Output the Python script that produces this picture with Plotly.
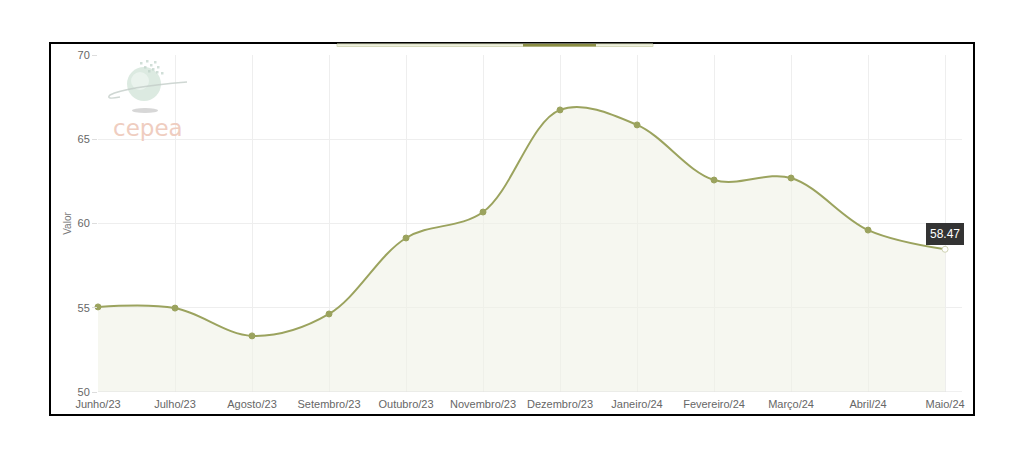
import plotly.graph_objects as go

months = ["Junho/23", "Julho/23", "Agosto/23", "Setembro/23", "Outubro/23", "Novembro/23",
          "Dezembro/23", "Janeiro/24", "Fevereiro/24", "Março/24", "Abril/24", "Maio/24"]
values = [55.05, 54.98, 53.33, 54.63, 59.14, 60.68, 66.74, 65.85, 62.58, 62.70, 59.61, 58.47]
y_ticks = [50, 55, 60, 65, 70]

OFF = 8  # browser body margin
W, H = 1024 - 2 * OFF, 451 - 2 * OFF
# plot area in page pixels: x 98..962, y 55..392
L, T = 98 - OFF, 55 - OFF
R = W - (962 - OFF)
B = H - (392 - OFF)
PW, PH = W - L - R, H - T - B

def px(x):
    return (x - OFF - L) / PW

def py(y):
    return (H - B - (y - OFF)) / PH

line_col = "#9ba35e"
x_idx = list(range(len(months)))

fig = go.Figure()
fig.add_trace(go.Scatter(
    x=x_idx, y=values, mode="lines+markers",
    line=dict(color=line_col, width=2, shape="spline", smoothing=1.0),
    marker=dict(size=6, color=[line_col] * (len(values) - 1) + ["white"],
                line=dict(color=[line_col] * (len(values) - 1) + ["#cfd3b4"], width=1)),
    fill="tozeroy", fillcolor="rgba(240,242,230,0.6)",
    cliponaxis=False, hoverinfo="skip", showlegend=False,
))

shapes = []
shapes.append(dict(type="rect", xref="paper", yref="paper",
                   x0=px(50), x1=px(974), y0=py(415), y1=py(43),
                   line=dict(color="black", width=2), fillcolor="rgba(0,0,0,0)", layer="above"))
shapes.append(dict(type="rect", xref="paper", yref="paper",
                   x0=px(337), x1=px(653), y0=py(46.5), y1=py(44),
                   line=dict(color="#d6dabb", width=1), fillcolor="#eef0df"))
shapes.append(dict(type="rect", xref="paper", yref="paper",
                   x0=px(523), x1=px(596), y0=py(46.5), y1=py(44),
                   line=dict(width=0), fillcolor="#8b8e45"))
# logo
shapes.append(dict(type="circle", xref="paper", yref="paper",
                   x0=px(132), x1=px(158), y0=py(113), y1=py(108),
                   line=dict(width=0), fillcolor="rgba(175,175,175,0.5)"))
shapes.append(dict(type="circle", xref="paper", yref="paper",
                   x0=px(127), x1=px(161), y0=py(101), y1=py(67),
                   line=dict(width=0), fillcolor="rgba(214,230,220,0.85)"))
shapes.append(dict(type="circle", xref="paper", yref="paper",
                   x0=px(131), x1=px(149), y0=py(90), y1=py(72),
                   line=dict(width=0), fillcolor="rgba(240,246,242,0.7)"))
shapes.append(dict(type="path", xref="paper", yref="paper",
                   path=f"M {px(187)} {py(82)} Q {px(125)} {py(87)} {px(110)} {py(95)} Q {px(105)} {py(100)} {px(120)} {py(97)}",
                   line=dict(color="rgba(195,205,200,0.8)", width=1.5)))
# pixel dots above sphere
for (dx, dy) in [(140, 62), (146, 60), (150, 64), (154, 61), (144, 66), (152, 68), (157, 66), (148, 70), (156, 71), (161, 72)]:
    shapes.append(dict(type="rect", xref="paper", yref="paper",
                       x0=px(dx), x1=px(dx + 2.5), y0=py(dy + 2.5), y1=py(dy),
                       line=dict(width=0), fillcolor="rgba(190,210,200,0.7)"))

annotations = [
    dict(x=px(148), y=py(127.5), xref="paper", yref="paper", text="cepea", showarrow=False,
         font=dict(family="Verdana, DejaVu Sans", size=23, color="#efcdc0"), xanchor="center", yanchor="middle"),
    dict(x=11, y=values[-1], xref="x", yref="y", text="58.47", showarrow=False, yshift=15,
         bgcolor="#333333", bordercolor="#333333", borderpad=3,
         font=dict(family="Arial, Liberation Sans", size=12, color="white")),
]

fig.update_layout(
    width=W, height=H,
    margin=dict(l=L, r=R, t=T, b=B),
    paper_bgcolor="white", plot_bgcolor="white",
    font=dict(family="Arial, Liberation Sans, sans-serif", color="#666666", size=11),
    xaxis=dict(range=[0, 11.22], tickvals=x_idx, ticktext=months, showgrid=True,
               gridcolor="#eeeeee", gridwidth=1, zeroline=False, showline=False,
               ticks="", tickfont=dict(size=11, color="#666666"), fixedrange=True,
               ticklabelstandoff=4),
    yaxis=dict(range=[50, 70], tickvals=y_ticks, showgrid=True, gridcolor="#eeeeee",
               zeroline=False, showline=False, ticks="outside", ticklen=5, tickcolor="#dddddd",
               tickfont=dict(size=11, color="#666666"),
               title=dict(text="Valor", font=dict(size=10, color="#777777"), standoff=4)),
    shapes=shapes, annotations=annotations,
)
fig.add_hline(y=50, line=dict(color="#e0e0e0", width=1))

fig.write_html("out.html")
